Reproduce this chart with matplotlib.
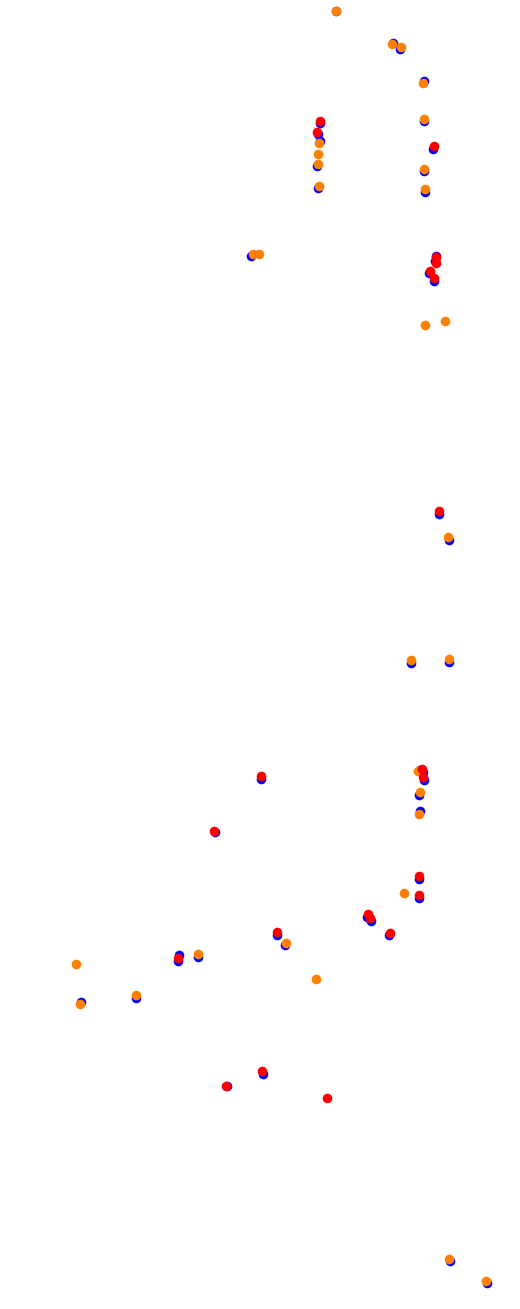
import matplotlib
matplotlib.use('Agg')
import matplotlib.pyplot as plt

# 像素坐标 (x, y)，y 向下
blue_x = [392.7, 400.0, 424.0, 320.0, 318.3, 320.0, 316.7, 317.7, 423.7, 432.7, 423.7, 424.7,
          251.3, 435.7, 435.0, 428.7, 433.7, 438.7, 448.7, 410.7, 448.7, 261.3, 215.3, 420.0,
          423.3, 424.3, 418.7, 419.7, 418.7, 418.7, 367.0, 370.7, 389.3, 276.7, 284.7, 178.7,
          178.0, 197.7, 81.0, 135.7, 262.7, 227.0, 450.0, 486.7, 336.0]
blue_y = [42.7, 49.0, 81.3, 122.7, 134.0, 141.3, 166.0, 188.0, 121.0, 149.0, 170.7, 192.3,
          255.7, 256.0, 261.0, 272.7, 280.7, 514.0, 539.7, 663.3, 661.7, 779.0, 832.0, 770.0,
          771.7, 780.0, 795.0, 811.3, 878.7, 897.7, 916.7, 921.0, 935.3, 934.7, 945.3, 955.3,
          960.7, 956.7, 1002.0, 997.7, 1073.7, 1086.3, 1261.3, 1283.3, 11.0]

red_x = [320.0, 317.0, 433.7, 435.7, 435.7, 430.0, 433.7, 438.7, 260.7, 214.3, 421.7, 423.0,
         418.7, 418.7, 367.7, 370.0, 390.0, 276.7, 178.0, 262.0, 226.0, 326.7]
red_y = [120.7, 131.7, 145.7, 256.7, 262.7, 270.7, 277.7, 510.7, 776.0, 830.7, 769.3, 777.3,
         875.7, 894.7, 914.0, 918.3, 933.3, 931.7, 958.0, 1071.0, 1085.7, 1097.7]

orange_x = [336.0, 391.7, 400.7, 423.0, 319.0, 317.7, 317.7, 318.7, 423.7, 423.7, 424.7, 252.7,
            259.0, 424.7, 445.0, 447.7, 410.7, 448.7, 418.3, 419.7, 418.7, 403.7, 285.7, 197.7,
            315.7, 75.7, 79.7, 135.7, 449.0, 486.0]
orange_y = [10.7, 44.3, 46.7, 82.7, 143.3, 154.0, 163.7, 185.7, 119.0, 169.0, 189.0, 253.7,
            253.7, 324.7, 320.7, 537.0, 660.0, 658.7, 771.0, 791.7, 813.7, 892.7, 942.7, 953.7,
            978.7, 963.7, 1003.7, 994.7, 1258.7, 1280.7]

W, H = 520, 1309
fig = plt.figure(figsize=(W / 100, H / 100), dpi=100)
ax = fig.add_axes([0, 0, 1, 1])
ax.set_xlim(0, W)
ax.set_ylim(H, 0)
ax.axis('off')

s = 48
ax.scatter(blue_x, blue_y, s=s, c='#0000ff', linewidths=0)
ax.scatter(orange_x, orange_y, s=s, c='#ff8000', linewidths=0)
ax.scatter(red_x, red_y, s=s, c='#ff0000', linewidths=0)

fig.savefig('out.png', dpi=100)
